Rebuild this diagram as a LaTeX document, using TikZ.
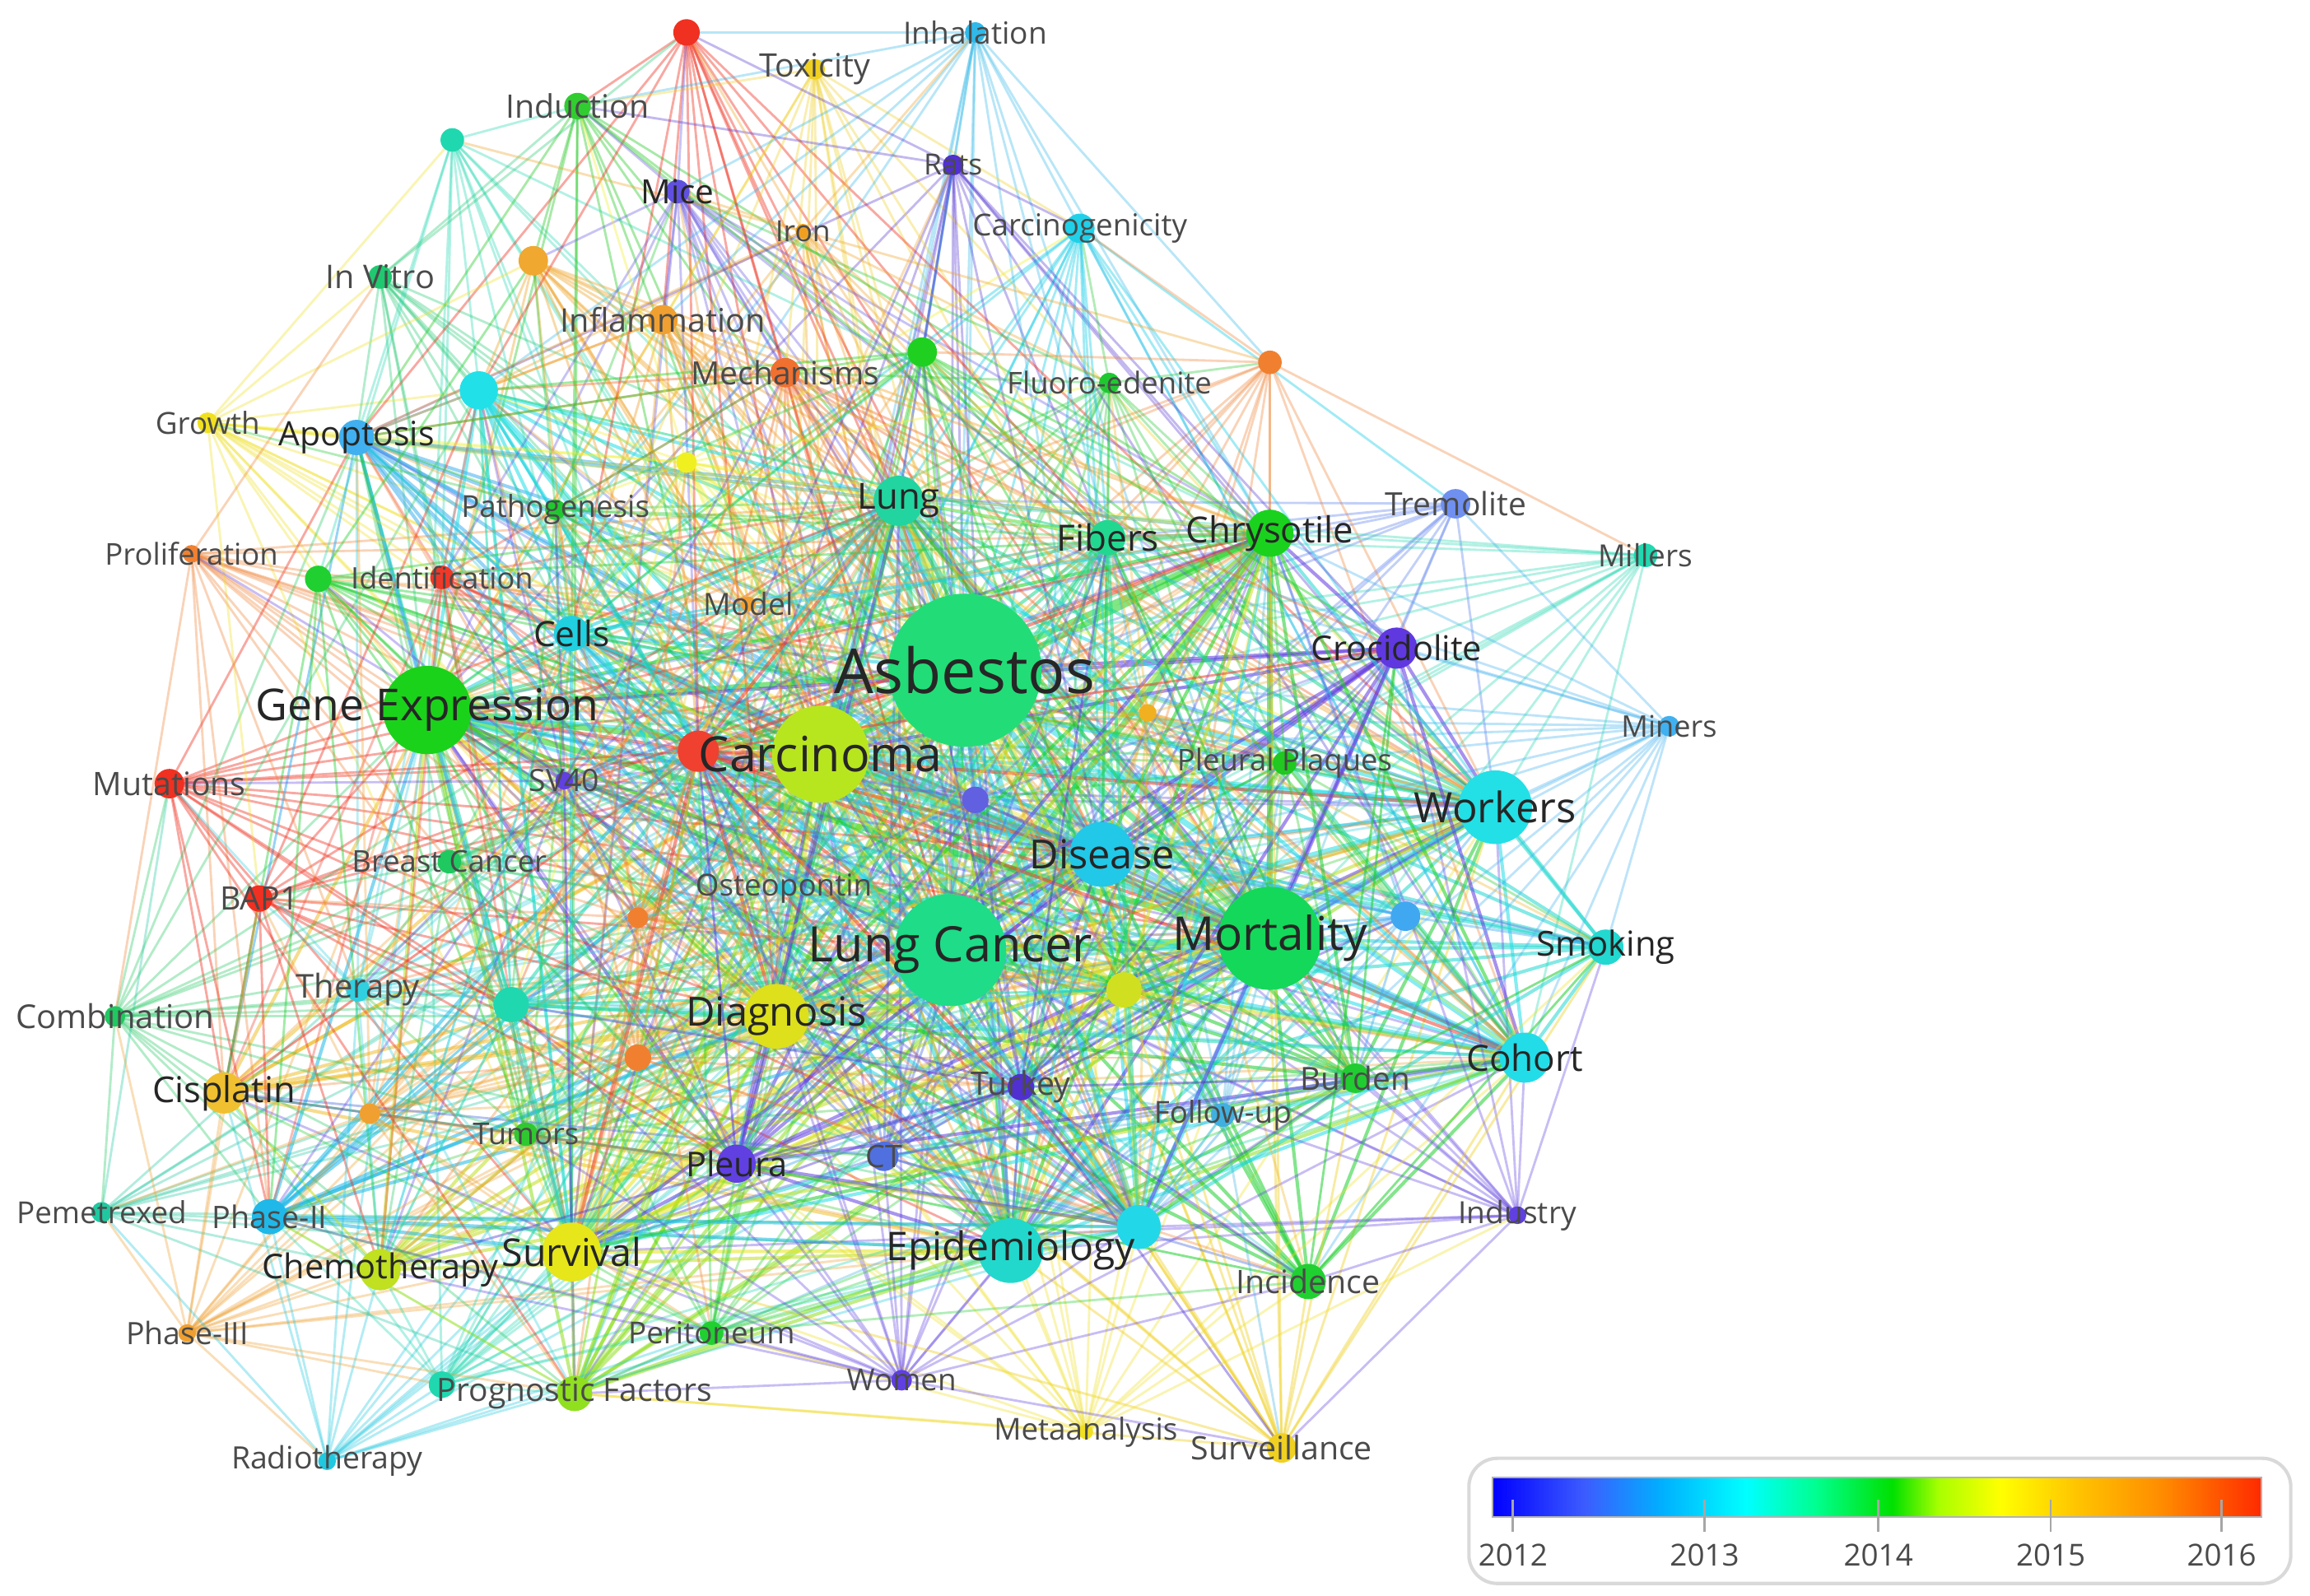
\documentclass[tikz,border=0pt]{standalone}
\usepackage{fontspec}
\setmainfont{Open Sans}
\pgfdeclarelayer{edges}
\pgfdeclarelayer{labels}
\pgfsetlayers{edges,main,labels}
\definecolor{labb}{HTML}{262626}
\definecolor{labs}{HTML}{4A4A4A}
\definecolor{sc0}{HTML}{0000FF}
\definecolor{sc1}{HTML}{3C5CFF}
\definecolor{sc2}{HTML}{00B0FF}
\definecolor{sc3}{HTML}{00FFFF}
\definecolor{sc4}{HTML}{00FF90}
\definecolor{sc5}{HTML}{00E000}
\definecolor{sc6}{HTML}{A8FF00}
\definecolor{sc7}{HTML}{FFFF00}
\definecolor{sc8}{HTML}{FFC400}
\definecolor{sc9}{HTML}{FF8C00}
\definecolor{sc10}{HTML}{FF2A00}
\pgfdeclarehorizontalshading{vos}{100bp}{color(0bp)=(sc0); color(25bp)=(sc0); color(31bp)=(sc1); color(36bp)=(sc2); color(41.5bp)=(sc3); color(46bp)=(sc4); color(51bp)=(sc5); color(54bp)=(sc6); color(58bp)=(sc7); color(63bp)=(sc8); color(68.5bp)=(sc9); color(75bp)=(sc10); color(100bp)=(sc10)}
\newcommand\vfs[1]{\fontsize{#1pt}{#1pt}\selectfont}
\def\nodelist{asb/655/455/52/22DD77, lc/645/645/38/1EDC88, mort/862/637/35/14D85A, carc/557/512/33/B8E61E, gene/290/482/30/1AD21A, work/1015/548/25/22E0E6, dis/748/580/22/22C8E8, epi/686/849/22/22D8CC, diag/527/690/22/DDE01A, surv/388/850/20/E6E61A, lung/610/340/17/22D4A0, coh/1035/718/17/22DDE8, chry/862/362/16/1AD21E, uR/773/833/15/22D8E8, cisp/152/742/14/F0C030, chemo/258/862/14/C0E020, croc/948/440/14/6038E0, uI/474/510/14/F04030, pleura/500/790/13/6040E0, uD/325/265/13/22E0E8, fib/752/365/12/22D890, smok/1090/643/12/22D8D0, apop/242/297/12/40B0F0, cells/388/430/12/20D0E0, incid/888/870/12/20D030, uM/763/672/12/D0E020, uN/347/682/12/20D8B0, phasetwo/183/826/12/20B8E8, progn/390/946/12/90E020, burden/920/732/10/20CC30, surveil/870/983/10/F0D020, ct/600/785/10/5070E0, tremol/988/342/10/7090F0, mut/115/532/10/F03020, carcgen/733/155/10/20D0E8, inflam/450/217/10/F0A030, mech/533/253/10/F07030, uC/362/177/10/F0A830, uE/626/239/10/20D020, uL/954/622/10/40A8F0, turkey/693/738/9/5030D0, bap/176/610/9/F03020, induct/392/72/9/30CC30, uA/466/22/9/F03020, uH/216/393/9/20D030, uP/433/718/9/F08030, uS/300/940/9/20D8B0, uJ/662/543/9/6060E0, millers/1117/377/8/22D8B0, pplaq/872/518/8/20C820, follow/830/757/8/40B0E0, peri/483/905/8/20D030, therapy/243/672/8/30D0E0, tumors/357/770/8/30C830, breast/305/585/8/20C860, ident/300/392/8/F03828, invitro/258/188/8/20C870, mice/460/130/8/6050E0, uB/307/95/8/20D8B0, uG/862/246/8/F08030, miners/1133/493/7/40B0F0, women/612/937/7/6040E0, pemet/69/823/7/20C8A0, comb/78/690/7/20C860, growth/141/287/7/F0E020, toxic/553/47/7/F0D020, inhal/662/22/7/30B8E8, rats/647/112/7/5030D0, fluoro/753/260/7/20C830, patho/377/346/7/20C830, uF/466/314/7/F0F020, uO/433/623/7/F08030, uQ/251/756/7/F0A030, industry/1030/825/6/6040E0, radio/222/992/6/20C8E0, phasethree/127/905/6/F0A030, prolif/130/376/6/F08030, sv/383/530/6/6040E0, uK/779/484/6/F0B020, metaan/737/972/5/F0E020, osteo/532/603/5/30C8D8, iron/545/157/5/F0A020, model/508/410/5/F0A030}
\begin{document}
\begin{tikzpicture}[x=0.02cm,y=-0.02cm,
  kw/.style={circle, inner sep=0pt},
  lab/.style={inner sep=0pt},
  tick/.style={draw=gray!70, line width=0.9pt},
  yearlab/.style={inner sep=0pt, text=labs, font=\vfs{11.7}}]
\useasboundingbox (0,0) rectangle (1568,1083);
\begin{pgfonlayer}{edges}
\fill[white] (0,0) rectangle (1568,1083);
\end{pgfonlayer}
% keyword circles
\foreach \n/\x/\y/\r/\c in \nodelist {
  \definecolor{tmpc}{HTML}{\c}
  \node[kw, fill=tmpc, minimum size={\r*0.04cm}] (\n) at (\x,\y) {};
}
% links
\pgfmathsetseed{11}
\begin{pgfonlayer}{edges}
\foreach \na/\xa/\ya/\ra/\ca [count=\i] in \nodelist {
  \foreach \nb/\xb/\yb/\rb/\cb [count=\j] in \nodelist {
    \ifnum\j>\i
      \pgfmathsetmacro\dd{veclen(\xb-\xa,\yb-\ya)}
      \pgfmathsetmacro\rr{rnd}
      \pgfmathtruncatemacro\ok{(\i<=5 && \rr<0.95) || (\i<=14 && \dd<820 && \rr<0.8) || (\i<=30 && \dd<500 && \rr<0.6) || (\dd<330 && \rr<0.5)}
      \ifnum\ok=1
        \definecolor{ec}{HTML}{\cb}
        \pgfmathsetmacro\lw{(\i<=4 && \j<=14) ? 2.3 : ((\i<=14 && \j<=30) ? 1.3 : 0.9)}
        \pgfmathsetmacro\op{(\j<=30) ? 0.55 : ((\j<=45) ? 0.42 : 0.34)}
        \draw[draw=ec, line width=\lw pt, opacity=\op] (\na.center) -- (\nb.center);
      \fi
    \fi
  }
}
\end{pgfonlayer}
% labels
\begin{pgfonlayer}{labels}
\foreach \n/\s/\t in {asb/24/Asbestos, carc/18.8/Carcinoma, lc/18.9/Lung Cancer, mort/18/Mortality, gene/17/Gene Expression, work/16.2/Workers, dis/15.5/Disease, epi/15.3/Epidemiology, diag/15.5/Diagnosis, surv/14.8/Survival, chry/13.9/Chrysotile, coh/14/Cohort, cisp/13.8/Cisplatin, lung/13.9/Lung, fib/14/Fibers, smok/13.3/Smoking, apop/13/Apoptosis, chemo/13.2/Chemotherapy, pleura/13.2/Pleura, cells/13.5/Cells, croc/13.2/Crocidolite, tremol/12.4/Tremolite, burden/12.3/Burden, therapy/12.7/Therapy, turkey/12.5/Turkey, induct/12.5/Induction, fluoro/11.6/Fluoro-edenite, mech/12.4/Mechanisms, inflam/12.6/Inflammation, carcgen/11.7/Carcinogenicity, incid/12.5/Incidence, follow/11.7/Follow-up, pplaq/11.6/Pleural Plaques, millers/11.8/Millers, miners/11.5/Miners, industry/11.8/Industry, surveil/12.5/Surveillance, metaan/11.7/Metaanalysis, women/11.7/Women, peri/11.7/Peritoneum, progn/12.4/Prognostic Factors, radio/11.9/Radiotherapy, phasethree/11.9/Phase-III, phasetwo/12/Phase-II, pemet/11.7/Pemetrexed, comb/12.7/Combination, tumors/11.6/Tumors, bap/12.5/BAP1, mut/12.5/Mutations, breast/11.6/Breast Cancer, sv/11.9/SV40, osteo/11.7/Osteopontin, model/11.8/Model, ident/11.5/Identification, prolif/11.6/Proliferation, patho/11.7/Pathogenesis, growth/11.7/Growth, invitro/12.6/In Vitro, mice/12.9/Mice, iron/11.3/Iron, toxic/12.5/Toxicity, inhal/11.8/Inhalation, rats/11.3/Rats, ct/12/CT} {
  \ifdim\s pt<12.8pt \def\tc{labs}\else\def\tc{labb}\fi
  \node[lab, text=\tc, font=\vfs{\s}] (l-\n) at (\n) {\t};
}
\end{pgfonlayer}
% legend
\node[draw=gray!30, line width=1.3pt, rounded corners=11pt, fill=white, minimum width=11.16cm, minimum height=1.7cm, inner sep=0pt] (legend) at (1276,1032.5) {};
\node[shading=vos, draw=gray!60, line width=0.6pt, minimum width=10.44cm, minimum height=0.54cm, inner sep=0pt] (cbar) at (1274,1016.5) {};
\foreach \x/\yr in {1027/2012, 1157/2013, 1275/2014, 1392/2015, 1508/2016} {
  \coordinate (t\yr) at (\x,1018);
  \coordinate (b\yr) at (\x,1040);
  \draw[tick] (t\yr) -- (b\yr);
  \node[yearlab] (y\yr) at (\x,1056) {\yr};
}
\end{tikzpicture}
\end{document}
